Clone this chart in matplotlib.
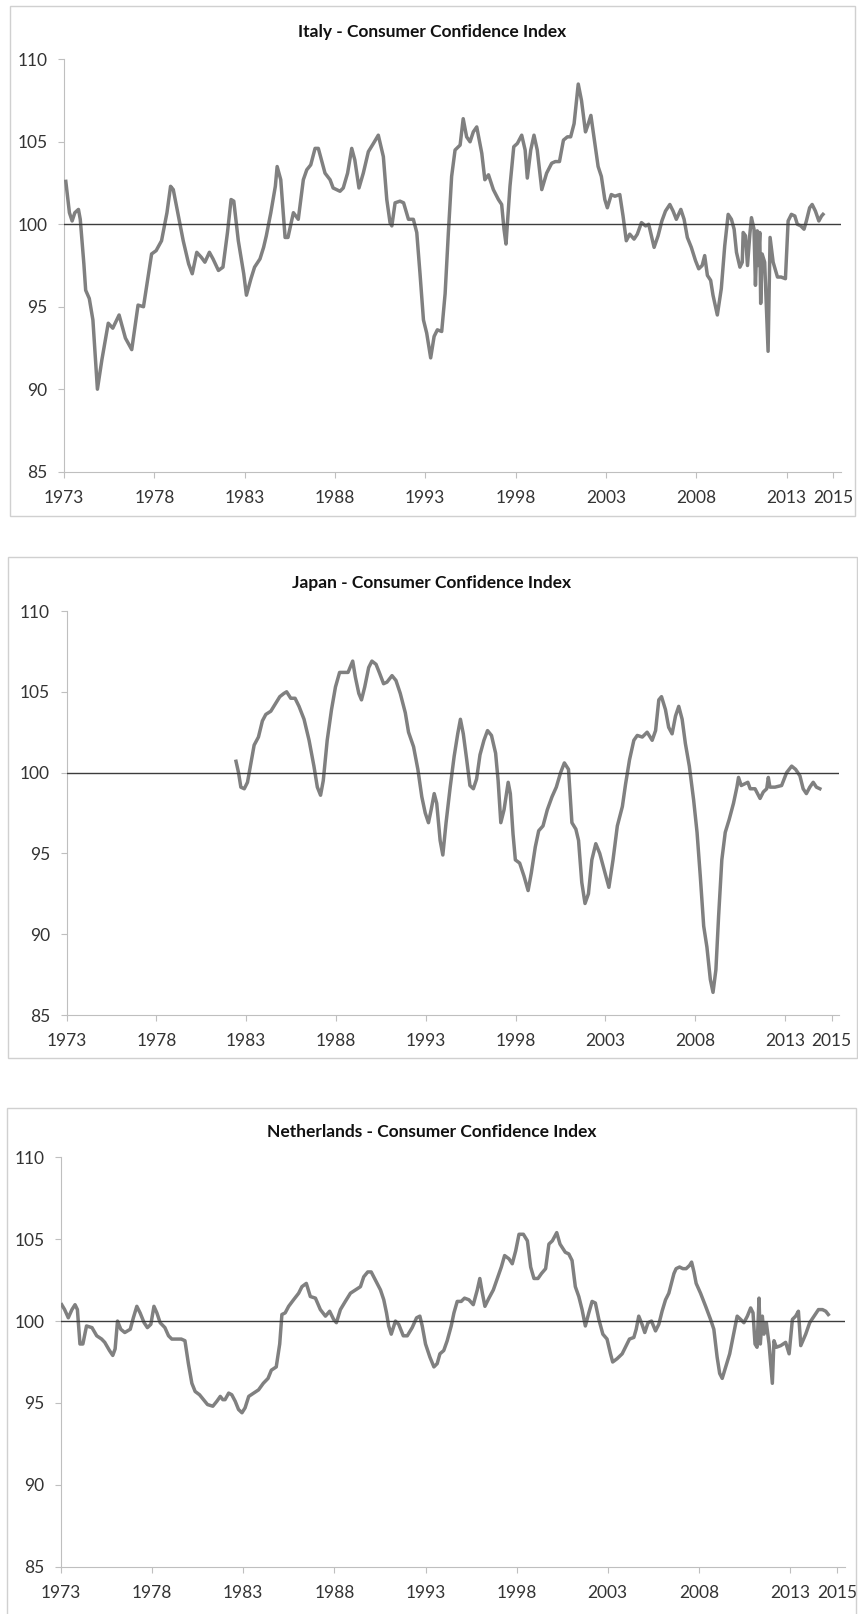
import matplotlib
matplotlib.use("Agg")
import matplotlib.pyplot as plt
from matplotlib.patches import Rectangle

plt.rcParams['font.family'] = ['Lato', 'DejaVu Sans']

# tick layout shared by the three charts
tick_pos = [1973, 1978, 1983, 1988, 1993, 1998, 2003, 2008, 2013, 2015.6]
tick_lab = ['1973', '1978', '1983', '1988', '1993', '1998', '2003', '2008', '2013', '2015']
y_ticks = [85, 90, 95, 100, 105, 110]

# Italy
italy_year = [1973.1, 1973.3, 1973.45, 1973.6, 1973.8, 1973.9, 1974.1, 1974.2, 1974.4, 1974.6,
              1974.85, 1975.1, 1975.45, 1975.7, 1976.05, 1976.4, 1976.75, 1977.1, 1977.4, 1977.85,
              1978.1, 1978.4, 1978.7, 1978.9, 1979.05, 1979.3, 1979.6, 1979.9, 1980.1, 1980.35,
              1980.6, 1980.8, 1981.05, 1981.25, 1981.55, 1981.8, 1982.05, 1982.25, 1982.4, 1982.65,
              1982.95, 1983.1, 1983.35, 1983.55, 1983.85, 1984.05, 1984.2, 1984.45, 1984.7, 1984.8,
              1985.0, 1985.24, 1985.4, 1985.7, 1985.97, 1986.25, 1986.44, 1986.66, 1986.9, 1987.08,
              1987.45, 1987.73, 1987.9, 1988.28, 1988.46, 1988.7, 1988.93, 1989.1, 1989.33, 1989.57,
              1989.85, 1990.13, 1990.4, 1990.68, 1990.87, 1991.05, 1991.15, 1991.33, 1991.6, 1991.8,
              1992.07, 1992.34, 1992.53, 1992.71, 1992.9, 1993.08, 1993.3, 1993.49, 1993.67, 1993.91,
              1994.1, 1994.28, 1994.46, 1994.65, 1994.93, 1995.1, 1995.29, 1995.48, 1995.66, 1995.85,
              1996.13, 1996.3, 1996.5, 1996.77, 1997.05, 1997.23, 1997.36, 1997.47, 1997.69, 1997.9,
              1998.1, 1998.34, 1998.53, 1998.65, 1998.84, 1999.02, 1999.2, 1999.45, 1999.72, 2000.0,
              2000.2, 2000.43, 2000.65, 2000.87, 2001.05, 2001.24, 2001.47, 2001.65, 2001.87, 2002.0,
              2002.17, 2002.39, 2002.57, 2002.75, 2002.94, 2003.08, 2003.3, 2003.5, 2003.77, 2003.95,
              2004.13, 2004.32, 2004.56, 2004.74, 2004.97, 2005.2, 2005.37, 2005.67, 2005.89, 2006.1,
              2006.3, 2006.54, 2006.72, 2006.9, 2007.15, 2007.33, 2007.51, 2007.73, 2007.96, 2008.14,
              2008.33, 2008.47, 2008.62, 2008.8, 2008.93, 2009.17, 2009.39, 2009.58, 2009.77, 2009.95,
              2010.1, 2010.23, 2010.42, 2010.55, 2010.6, 2010.73, 2010.84, 2010.97, 2011.06, 2011.2,
              2011.28, 2011.38, 2011.43, 2011.52, 2011.57, 2011.65, 2011.79, 2011.98, 2012.09, 2012.26,
              2012.5, 2012.7, 2012.94, 2013.09, 2013.27, 2013.46, 2013.6, 2013.79, 2013.97, 2014.1,
              2014.28, 2014.42, 2014.6, 2014.79, 2014.94, 2015.02]
italy_cci = [102.6, 100.7, 100.2, 100.7, 100.9, 100.3, 97.6, 96.0, 95.5, 94.2,
             90.0, 91.8, 94.0, 93.7, 94.5, 93.1, 92.4, 95.1, 95.0, 98.2,
             98.4, 99.0, 100.7, 102.3, 102.1, 100.7, 99.0, 97.6, 97.0, 98.3,
             98.0, 97.7, 98.3, 97.9, 97.2, 97.4, 99.5, 101.5, 101.4, 99.0,
             97.0, 95.7, 96.7, 97.4, 97.9, 98.6, 99.3, 100.7, 102.3, 103.5,
             102.7, 99.2, 99.2, 100.7, 100.3, 102.7, 103.3, 103.6, 104.6, 104.6,
             103.1, 102.7, 102.2, 102.0, 102.2, 103.1, 104.6, 103.9, 102.2, 103.1,
             104.4, 104.9, 105.4, 104.1, 101.5, 100.1, 99.9, 101.3, 101.4, 101.3,
             100.3, 100.3, 99.5, 97.0, 94.2, 93.4, 91.9, 93.2, 93.6, 93.5,
             95.8, 99.5, 102.9, 104.5, 104.8, 106.4, 105.3, 105.0, 105.6, 105.9,
             104.3, 102.7, 103.0, 102.1, 101.5, 101.2, 99.7, 98.8, 102.3, 104.7,
             104.9, 105.4, 104.5, 102.8, 104.5, 105.4, 104.5, 102.1, 103.1, 103.7,
             103.8, 103.8, 105.1, 105.3, 105.3, 106.1, 108.5, 107.5, 105.6, 106.0,
             106.6, 104.9, 103.5, 102.9, 101.5, 101.0, 101.8, 101.7, 101.8, 100.5,
             99.0, 99.4, 99.1, 99.4, 100.1, 99.9, 100.0, 98.6, 99.3, 100.2,
             100.8, 101.2, 100.8, 100.3, 100.9, 100.3, 99.2, 98.6, 97.8, 97.3,
             97.5, 98.1, 96.9, 96.6, 95.7, 94.5, 96.1, 98.7, 100.6, 100.3,
             99.7, 98.3, 97.4, 97.7, 99.5, 99.3, 97.5, 99.4, 100.4, 99.7,
             96.3, 99.6, 97.5, 99.5, 95.2, 98.2, 97.7, 92.3, 99.2, 97.7,
             96.8, 96.8, 96.7, 100.2, 100.6, 100.5, 100.0, 99.9, 99.7, 100.2,
             101.0, 101.2, 100.8, 100.2, 100.5, 100.6]

# Japan
japan_year = [1982.43, 1982.57, 1982.7, 1982.89, 1983.07, 1983.26, 1983.44, 1983.68, 1983.9, 1984.09,
              1984.37, 1984.65, 1984.87, 1985.1, 1985.25, 1985.48, 1985.72, 1985.94, 1986.22, 1986.5,
              1986.77, 1986.96, 1987.14, 1987.29, 1987.51, 1987.75, 1987.97, 1988.2, 1988.43, 1988.67,
              1988.93, 1989.08, 1989.27, 1989.42, 1989.6, 1989.82, 1990.0, 1990.23, 1990.41, 1990.65,
              1990.84, 1991.12, 1991.34, 1991.58, 1991.86, 1992.04, 1992.32, 1992.56, 1992.78, 1992.97,
              1993.15, 1993.3, 1993.47, 1993.61, 1993.8, 1993.95, 1994.13, 1994.36, 1994.58, 1994.78,
              1994.93, 1995.09, 1995.28, 1995.46, 1995.65, 1995.83, 1996.02, 1996.24, 1996.44, 1996.66,
              1996.89, 1997.03, 1997.18, 1997.36, 1997.59, 1997.71, 1997.86, 1997.99, 1998.23, 1998.47,
              1998.7, 1998.88, 1999.1, 1999.29, 1999.53, 1999.77, 2000.03, 2000.27, 2000.51, 2000.72,
              2000.95, 2001.14, 2001.36, 2001.51, 2001.69, 2001.87, 2002.06, 2002.25, 2002.47, 2002.69,
              2002.93, 2003.2, 2003.43, 2003.67, 2003.95, 2004.13, 2004.35, 2004.59, 2004.78, 2005.06,
              2005.33, 2005.61, 2005.8, 2005.98, 2006.13, 2006.35, 2006.53, 2006.72, 2006.91, 2007.09,
              2007.28, 2007.46, 2007.68, 2007.92, 2008.11, 2008.29, 2008.48, 2008.66, 2008.85, 2009.0,
              2009.16, 2009.31, 2009.49, 2009.68, 2009.9, 2010.14, 2010.33, 2010.42, 2010.57, 2010.76,
              2010.94, 2011.07, 2011.34, 2011.62, 2011.8, 2011.99, 2012.08, 2012.17, 2012.45, 2012.82,
              2013.1, 2013.38, 2013.6, 2013.84, 2014.02, 2014.2, 2014.39, 2014.58, 2014.76, 2014.95]
japan_cci = [100.7, 100.0, 99.1, 99.0, 99.4, 100.6, 101.7, 102.2, 103.2, 103.6,
             103.8, 104.3, 104.7, 104.9, 105.0, 104.6, 104.6, 104.1, 103.3, 102.0,
             100.4, 99.1, 98.6, 99.5, 102.0, 103.9, 105.3, 106.2, 106.2, 106.2,
             106.9, 105.9, 104.9, 104.5, 105.3, 106.5, 106.9, 106.7, 106.2, 105.5,
             105.6, 106.0, 105.7, 104.9, 103.7, 102.5, 101.6, 100.2, 98.5, 97.5,
             96.9, 97.7, 98.7, 98.1, 95.8, 94.9, 96.9, 99.1, 101.0, 102.4,
             103.3, 102.4, 100.8, 99.2, 99.0, 99.6, 101.1, 102.0, 102.6, 102.3,
             101.2, 99.5, 96.9, 97.7, 99.4, 98.7, 96.2, 94.6, 94.4, 93.6,
             92.7, 93.8, 95.4, 96.4, 96.7, 97.7, 98.5, 99.1, 100.0, 100.6,
             100.2, 96.9, 96.5, 95.8, 93.2, 91.9, 92.5, 94.6, 95.6, 95.0,
             94.0, 92.9, 94.6, 96.7, 97.9, 99.3, 100.8, 102.0, 102.3, 102.2,
             102.5, 102.0, 102.6, 104.5, 104.7, 103.9, 102.8, 102.4, 103.5, 104.1,
             103.3, 101.8, 100.4, 98.3, 96.3, 93.6, 90.5, 89.2, 87.2, 86.4,
             87.8, 91.1, 94.6, 96.3, 97.1, 98.1, 99.1, 99.7, 99.2, 99.3,
             99.4, 99.0, 99.0, 98.4, 98.8, 99.0, 99.7, 99.1, 99.1, 99.2,
             100.0, 100.4, 100.2, 99.8, 99.0, 98.7, 99.1, 99.4, 99.1, 99.0]

# Netherlands
nl_year = [1973.04, 1973.2, 1973.4, 1973.6, 1973.77, 1973.9, 1974.04, 1974.2, 1974.4, 1974.7,
           1974.96, 1975.23, 1975.4, 1975.66, 1975.84, 1975.97, 1976.1, 1976.28, 1976.5, 1976.8,
           1976.97, 1977.16, 1977.34, 1977.56, 1977.74, 1977.93, 1978.1, 1978.26, 1978.44, 1978.7,
           1978.9, 1979.08, 1979.35, 1979.6, 1979.8, 1979.99, 1980.18, 1980.36, 1980.6, 1980.82,
           1981.04, 1981.33, 1981.55, 1981.74, 1981.88, 1982.0, 1982.2, 1982.37, 1982.56, 1982.74,
           1982.93, 1983.1, 1983.3, 1983.57, 1983.84, 1984.1, 1984.36, 1984.54, 1984.81, 1985.0,
           1985.12, 1985.3, 1985.49, 1985.76, 1986.04, 1986.22, 1986.46, 1986.68, 1986.96, 1987.23,
           1987.51, 1987.74, 1987.96, 1988.11, 1988.33, 1988.6, 1988.88, 1989.15, 1989.43, 1989.61,
           1989.83, 1990.02, 1990.25, 1990.53, 1990.71, 1990.86, 1990.98, 1991.12, 1991.35, 1991.53,
           1991.78, 1992.0, 1992.27, 1992.51, 1992.69, 1992.82, 1993.0, 1993.24, 1993.46, 1993.64,
           1993.79, 1994.0, 1994.19, 1994.41, 1994.56, 1994.74, 1994.96, 1995.14, 1995.38, 1995.62,
           1995.84, 1995.98, 1996.12, 1996.26, 1996.48, 1996.72, 1996.94, 1997.16, 1997.34, 1997.58,
           1997.76, 1997.95, 1998.13, 1998.37, 1998.59, 1998.77, 1998.95, 1999.17, 1999.36, 1999.59,
           1999.77, 1999.96, 2000.2, 2000.38, 2000.67, 2000.86, 2001.04, 2001.22, 2001.41, 2001.59,
           2001.77, 2001.96, 2002.14, 2002.32, 2002.51, 2002.73, 2002.96, 2003.15, 2003.27, 2003.51,
           2003.79, 2003.97, 2004.19, 2004.43, 2004.56, 2004.7, 2004.88, 2005.03, 2005.21, 2005.4,
           2005.62, 2005.8, 2005.98, 2006.17, 2006.35, 2006.63, 2006.75, 2006.94, 2007.12, 2007.3,
           2007.49, 2007.6, 2007.73, 2007.85, 2008.09, 2008.37, 2008.64, 2008.82, 2009.0, 2009.14,
           2009.28, 2009.47, 2009.69, 2009.87, 2010.1, 2010.29, 2010.47, 2010.66, 2010.84, 2010.97,
           2011.08, 2011.19, 2011.3, 2011.37, 2011.48, 2011.57, 2011.7, 2011.85, 2012.03, 2012.12,
           2012.25, 2012.49, 2012.76, 2012.95, 2013.13, 2013.31, 2013.46, 2013.59, 2013.86, 2014.08,
           2014.32, 2014.56, 2014.78, 2014.96, 2015.1]
nl_cci = [101.0, 100.7, 100.2, 100.7, 101.0, 100.7, 98.6, 98.6, 99.7, 99.6,
          99.1, 98.9, 98.7, 98.2, 97.9, 98.3, 100.0, 99.5, 99.3, 99.5,
          100.2, 100.9, 100.5, 99.9, 99.6, 99.8, 100.9, 100.5, 99.9, 99.6,
          99.1, 98.9, 98.9, 98.9, 98.8, 97.4, 96.2, 95.7, 95.5, 95.2,
          94.9, 94.8, 95.1, 95.4, 95.2, 95.2, 95.6, 95.5, 95.1, 94.6,
          94.4, 94.7, 95.4, 95.6, 95.8, 96.2, 96.5, 97.0, 97.2, 98.6,
          100.4, 100.5, 100.9, 101.3, 101.7, 102.1, 102.3, 101.5, 101.4, 100.7,
          100.3, 100.6, 100.1, 99.9, 100.7, 101.2, 101.7, 101.9, 102.1, 102.7,
          103.0, 103.0, 102.5, 101.9, 101.3, 100.5, 99.7, 99.2, 100.0, 99.8,
          99.1, 99.1, 99.6, 100.2, 100.3, 99.7, 98.6, 97.8, 97.2, 97.4,
          98.0, 98.2, 98.8, 99.7, 100.5, 101.2, 101.2, 101.4, 101.3, 101.0,
          101.9, 102.6, 101.7, 100.9, 101.4, 101.9, 102.6, 103.3, 104.0, 103.8,
          103.5, 104.3, 105.3, 105.3, 104.9, 103.3, 102.6, 102.6, 102.9, 103.2,
          104.7, 104.9, 105.4, 104.7, 104.2, 104.1, 103.7, 102.1, 101.5, 100.7,
          99.7, 100.5, 101.2, 101.1, 100.1, 99.2, 98.9, 98.0, 97.5, 97.7,
          98.0, 98.4, 98.9, 99.0, 99.5, 100.3, 99.8, 99.3, 99.9, 100.0,
          99.4, 99.8, 100.6, 101.3, 101.7, 102.9, 103.2, 103.3, 103.2, 103.2,
          103.4, 103.6, 103.0, 102.3, 101.7, 100.9, 100.1, 99.5, 97.8, 96.8,
          96.5, 97.2, 98.0, 99.0, 100.3, 100.1, 99.9, 100.3, 100.8, 100.5,
          98.6, 98.4, 101.4, 98.6, 100.3, 99.2, 99.9, 98.6, 96.2, 98.8,
          98.4, 98.5, 98.7, 98.0, 100.1, 100.3, 100.6, 98.5, 99.2, 99.9,
          100.3, 100.7, 100.7, 100.6, 100.4]

# panel geometry in pixels of the 858x1614 picture (left, right, top, bottom of the plot area)
W, H = 858, 1614
panels = [
    ('Italy - Consumer Confidence Index', italy_year, italy_cci,
     (64, 840.7, 59.3, 471.7), (10, 855, 6, 516), 31.7),
    ('Japan - Consumer Confidence Index', japan_year, japan_cci,
     (66.7, 838.7, 611, 1015), (8, 857, 557, 1058), 582.7),
    ('Netherlands - Consumer Confidence Index', nl_year, nl_cci,
     (61, 844.7, 1157.3, 1566.7), (7, 856, 1108, 1640), 1131.7),
]

fig = plt.figure(figsize=(W / 100, H / 100), dpi=100)

for title, yrs, vals, (l, r, t, b), (fl, fr, ft, fb), ty in panels:
    # light frame around each chart
    fig.add_artist(Rectangle((fl / W, 1 - fb / H), (fr - fl) / W, (fb - ft) / H,
                             transform=fig.transFigure, fill=False,
                             ec='#d0d0d0', lw=1.0))
    fig.text(432 / W, 1 - ty / H, title, ha='center', va='center',
             fontsize=12.5, fontweight='bold', color='#111111')

    ax = fig.add_axes([l / W, 1 - b / H, (r - l) / W, (b - t) / H])
    ax.plot(yrs, vals, color='#808080', lw=2.5, solid_joinstyle='round', zorder=3)
    ax.axhline(100, color='#3c3c3c', lw=1.0, zorder=4)

    ax.set_xlim(1973, 2016)
    ax.set_ylim(85, 110)
    ax.set_xticks(tick_pos)
    ax.set_xticklabels(tick_lab)
    ax.set_yticks(y_ticks)

    for s in ['top', 'right']:
        ax.spines[s].set_visible(False)
    for s in ['left', 'bottom']:
        ax.spines[s].set_color('#bfbfbf')
        ax.spines[s].set_linewidth(0.8)
    ax.tick_params(axis='both', colors='#bfbfbf', length=4, width=0.8,
                   labelcolor='#333333', labelsize=12.5)
    ax.tick_params(axis='y', pad=8)
    ax.tick_params(axis='x', pad=9)

fig.savefig('out.png', dpi=100)
